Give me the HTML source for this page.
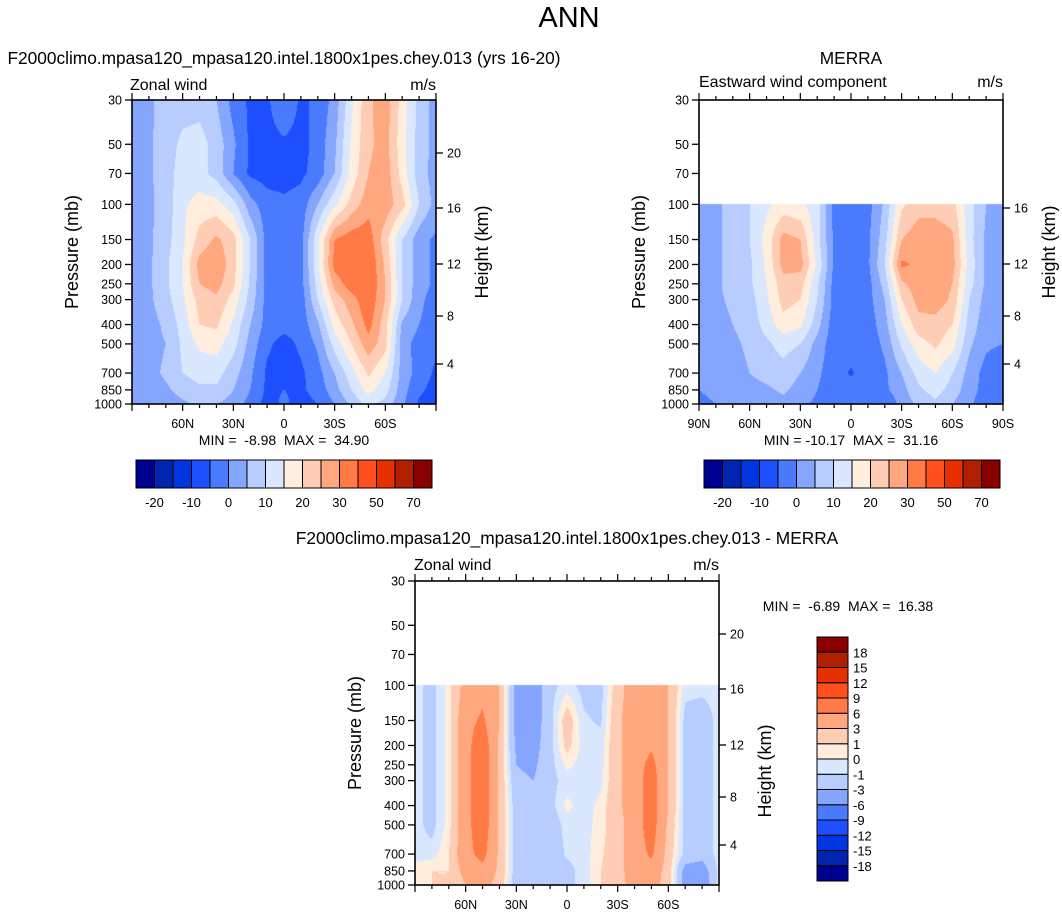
<!DOCTYPE html>
<html><head><meta charset="utf-8">
<style>
html,body{margin:0;padding:0;background:#fff;}
#wrap{position:relative;width:1062px;height:915px;overflow:hidden;font-family:"Liberation Sans",Arial,sans-serif;}
canvas{position:absolute;}
svg{position:absolute;left:0;top:0;}
svg text{white-space:pre;}
</style></head>
<body>
<div id="wrap">
<canvas id="c1" width="304" height="304" style="left:132px;top:100px"></canvas>
<canvas id="c2" width="304" height="304" style="left:699px;top:100px"></canvas>
<canvas id="c3" width="304" height="304" style="left:415px;top:581px"></canvas>
<svg id="ov" width="1062" height="915"></svg>
</div>
<script>
// ---------- data ----------
const lats = [90,80,70,60,50,40,30,20,10,0,-10,-20,-30,-40,-50,-60,-70,-80,-90];
const presFull = [30,50,70,100,150,200,250,300,400,500,700,850,1000];
const presLow = [100,150,200,250,300,400,500,700,850,1000];
const modelU = [
[3,4,7,8,8,5,-2,-6,-6,0,-6,-4,2,14,24,28,18,8,3],
[2,4,8,11,12,8,1,-6,-7,-6,-7,-3,4,16,24,27,17,8,3],
[2,4,8,12,12,8,0,-6,-7,-7,-6,-3,5,17,25,28,18,7,3],
[2,4,7,14,17,17,12,2,-3,-4,-3,5,14,22,28,28,22,10,3],
[2,4,8,14,22,26,22,10,-2,-3,-2,14,30,33,33,22,10,2,-1],
[2,4,9,15,27,29,22,10,-2,-3,-2,14,32,35,35,24,10,2,-1],
[2,4,9,15,25,27,21,9,-2,-3,-2,12,27,33,35,25,10,2,-1],
[2,4,8,14,22,24,18,8,-2,-3,-3,10,22,28,34,25,10,1,-2],
[2,3,6,12,20,21,14,5,-2,-3,-3,4,17,24,32,22,4,0,-2],
[1,3,5,11,16,17,12,3,-4,-7,-4,1,12,20,28,22,2,-2,-4],
[1,3,6,10,12,12,7,1,-6,-7,-6,-2,5,13,21,15,3,-2,-6],
[1,2,4,7,9,9,5,0,-6,-5,-6,-3,3,10,17,12,2,-4,-7],
[1,1,2,4,6,5,3,-2,-7,-4,-7,-5,0,6,12,8,1,-6,-7]];
const merraU = [
[2,4,7,10,14,17,16,12,-2,-3,-2,6,19,23,23,22,12,5,2],
[2,4,7,10,17,27,25,12,-1,-3,-1,8,25,28,28,26,12,4,2],
[2,4,7,9,16,27,27,14,-1,-3,-1,10,31,29,28,27,13,4,2],
[2,4,7,9,15,23,22,11,-2,-3,-2,7,24,28,28,25,12,4,2],
[2,4,6,8,14,22,20,10,-2,-3,-2,5,20,27,28,24,10,3,2],
[2,3,5,7,12,18,16,7,-3,-3,-3,3,15,23,23,20,8,2,1],
[1,3,4,6,9,12,10,3,-3,-3,-3,1,11,18,21,17,6,1,0],
[0,2,3,5,7,8,5,1,-3,-5.5,-3,-1,5,12,15,10,3,-2,-5],
[0,1,2,3,4,6,3,0,-3,-3,-3,-1,3,9,12,8,2,-2,-4],
[-1,0,1,2,2,3,1,-1,-3,-4,-5,-5,2,6,9,5,1,-3,-5]];
const diffU = [
[-0.5,-1.5,0.5,4,5,3,-4,-4.5,-1.5,-0.5,-1.5,-1.5,2,4.5,4,3,-0.5,-0.5,-0.5],
[-0.5,-1.5,0.5,5,6.5,3,-4,-4.5,-1.5,2,-0.8,-1.2,2.5,4.5,4.5,3,-1.5,-2,-0.5],
[-0.5,-1.5,0.5,5,8,2.5,-3.5,-4,-1.5,1.5,-0.5,-0.5,2.5,4.5,5.5,3,-1.5,-2,-0.5],
[-0.5,-1.5,0.5,5,8,2.5,-3,-3.5,-1.5,0.3,-0.5,-0.5,2.5,4.5,7,3,-1.5,-2,-0.5],
[-0.5,-1.5,0.5,5,8,2.5,-2.5,-3,-1.5,-0.5,-0.5,-0.3,2.5,4.5,7.5,3,-1.5,-2,-0.5],
[-0.5,-1.5,0.5,5,8,2.5,-2,-2.5,-1.5,0.3,-0.5,0.3,2.5,4.5,7.5,3,-1.5,-2,-0.5],
[-0.5,-1.5,0.5,5,8,2.5,-2,-2.5,-2,-0.5,-0.5,0.5,2,4.5,7.5,2.5,-1.5,-2,-0.5],
[-0.5,-0.5,1,5,7,2.5,-2,-2.5,-2,-0.8,-0.5,0.8,2,4.5,6.5,2,-1.5,-2,-0.5],
[0.5,1,1,4,5,2.5,-2,-2,-2,-1.5,-0.5,1,2,4.5,4.5,2,-4,-4.5,-0.5],
[0.5,1,1,3,4,2,-2,-2,-1.5,-1.5,-0.5,1,2,4,4,2,-4,-5,-0.5]];
const levelsAbs = [-20,-15,-10,-5,0,5,10,15,20,25,30,40,50,60,70];
const levelsDiff = [-18,-15,-12,-9,-6,-3,-1,0,1,3,6,9,12,15,18];
const absTickLabels = ["-20","-10","0","10","20","30","50","70"];
const diffTickLabels = ["-18","-15","-12","-9","-6","-3","-1","0","1","3","6","9","12","15","18"];
const palette = ["#000090","#0024b0","#0035e0","#1e4fff","#4a7bff","#85a6ff","#b8cdff","#d9e8ff","#ffeedd","#ffcdb5","#ffa880","#ff7a45","#ff4f1f","#e63000","#b02000","#8a0000"];
const pressLabels = [30,50,70,100,150,200,250,300,400,500,700,850,1000];
const latLabels = ["60N","30N","0","30S","60S"];
const latLabelVals = [60,30,0,-30,-60];
const heightLabels = [20,16,12,8,4];
const heightOffsets = [53,108,164,216,264];

// ---------- helpers ----------
const PH = 304, PW = 304;
const decade = PH / Math.log10(1000/30);
function yOfP(p){ return (Math.log10(p) - Math.log10(30)) * decade; }
function xOfLat(lat){ return (90 - lat) / 180 * PW; }
function hex(c){ return [parseInt(c.slice(1,3),16),parseInt(c.slice(3,5),16),parseInt(c.slice(5,7),16)]; }
const palRGB = palette.map(hex);

function drawField(id, pres, vals, levels){
  const cv = document.getElementById(id), ctx = cv.getContext('2d');
  const img = ctx.createImageData(PW, PH);
  const lp = pres.map(p => Math.log10(p));
  const top = yOfP(pres[0]);
  for (let py = 0; py < PH; py++){
    const y = py + 0.5;
    if (y < top) continue;
    const l = Math.log10(30) + y / decade;
    let j = 0; while (j < lp.length - 2 && l > lp[j+1]) j++;
    let fy = (l - lp[j]) / (lp[j+1] - lp[j]); fy = Math.max(0, Math.min(1, fy));
    for (let px = 0; px < PW; px++){
      const lat = 90 - (px + 0.5) / PW * 180;
      let fi = (90 - lat) / 10; let i = Math.min(lats.length - 2, Math.floor(fi)); let fx = fi - i;
      const v = vals[j][i]*(1-fx)*(1-fy) + vals[j][i+1]*fx*(1-fy) + vals[j+1][i]*(1-fx)*fy + vals[j+1][i+1]*fx*fy;
      let k = 0; while (k < levels.length && v >= levels[k]) k++;
      const c = palRGB[k], o = (py*PW + px)*4;
      img.data[o]=c[0]; img.data[o+1]=c[1]; img.data[o+2]=c[2]; img.data[o+3]=255;
    }
  }
  ctx.putImageData(img, 0, 0);
}
drawField('c1', presFull, modelU, levelsAbs);
drawField('c2', presLow, merraU, levelsAbs);
drawField('c3', presLow, diffU, levelsDiff);

// ---------- SVG overlay ----------
const NS = "http://www.w3.org/2000/svg";
const svg = document.getElementById('ov');
function el(tag, attrs, parent){
  const e = document.createElementNS(NS, tag);
  for (const k in attrs) e.setAttribute(k, attrs[k]);
  (parent || svg).appendChild(e); return e;
}
function txt(x, y, s, size, anchor, extra){
  const t = el('text', Object.assign({x:x, y:y, 'font-size':size, 'text-anchor':anchor||'middle', fill:'#000', 'font-family':'Liberation Sans, Arial, sans-serif'}, extra||{}));
  t.textContent = s; return t;
}

function axes(ox, oy, name, opts){
  const g = el('g', {});
  
  
  el('rect', {x:ox, y:oy, width:PW, height:PH, fill:'none', stroke:'#000', 'stroke-width':1.6}, g);
  pressLabels.forEach(p => {
    const y = oy + yOfP(p);
    el('line', {x1:ox-7, x2:ox, y1:y, y2:y, stroke:'#000', 'stroke-width':1.3}, g);
    g.appendChild(txt(ox-10, y+4.5, String(p), 12.5, 'end'));
  });
  heightLabels.forEach((h, k) => {
    if (opts.hskip && h > 16) return;
    const y = oy + heightOffsets[k];
    el('line', {x1:ox+PW, x2:ox+PW+7, y1:y, y2:y, stroke:'#000', 'stroke-width':1.3}, g);
    g.appendChild(txt(ox+PW+11, y+4.5, String(h), 12.5, 'start'));
  });
  for (let lat = 90; lat >= -90; lat -= 10){
    const x = ox + xOfLat(lat);
    const major = (lat % 30 === 0);
    const len = major ? 7 : 4;
    el('line', {x1:x, x2:x, y1:oy+PH, y2:oy+PH+len, stroke:'#000', 'stroke-width':1.2}, g);
    el('line', {x1:x, x2:x, y1:oy, y2:oy-len, stroke:'#000', 'stroke-width':1.2}, g);
  }
  latLabelVals.forEach((v, k) => {
    g.appendChild(txt(ox + xOfLat(v), oy+PH+24, latLabels[k], 12.5, 'middle'));
  });
  if (opts.poles){
    g.appendChild(txt(ox, oy+PH+24, "90N", 12.5, 'middle'));
    g.appendChild(txt(ox+PW, oy+PH+24, "90S", 12.5, 'middle'));
  }
  const yc = oy + PH/2;
  g.appendChild(txt(ox-60, yc+6, "Pressure (mb)", 18, 'middle', {transform:'rotate(-90 '+(ox-60)+' '+yc+')'}));
  const hy = oy + opts.hcenter;
  g.appendChild(txt(ox+PW+46, hy+6, "Height (km)", 18, 'middle', {transform:'rotate(-90 '+(ox+PW+46)+' '+hy+')'}));
}

function hbar(x0, y0, w, h, labels, name){
  const g = el('g', {});
  
  
  const n = palette.length, cw = w / n;
  palette.forEach((c, k) => {
    const r = el('rect', {x:x0+k*cw, y:y0, width:cw, height:h, fill:c, stroke:'#000', 'stroke-width':1}, g);
    
    
  });
  labels.forEach((s, k) => {
    g.appendChild(txt(x0 + (2*k+1)*cw, y0+h+19, s, 13, 'middle'));
  });
}

const t0 = txt(569, 27, "ANN", 29, 'middle');


const t1 = txt(284, 64, "F2000climo.mpasa120_mpasa120.intel.1800x1pes.chey.013 (yrs 16-20)", 17.3, 'middle');


const t2 = txt(851, 64, "MERRA", 17.3, 'middle');


const t3 = txt(567, 544, "F2000climo.mpasa120_mpasa120.intel.1800x1pes.chey.013 - MERRA", 17.3, 'middle');



txt(130, 90, "Zonal wind", 16, 'start');
txt(436, 90, "m/s", 16, 'end');
txt(699, 87, "Eastward wind component", 16, 'start');
txt(1003, 87, "m/s", 16, 'end');
txt(414, 570, "Zonal wind", 16, 'start');
txt(719, 570, "m/s", 16, 'end');

axes(132, 100, 'model-axes', {hcenter:152, hskip:false, poles:false});
axes(699, 100, 'merra-axes', {hcenter:152, hskip:true, poles:true});
axes(415, 581, 'difference-axes', {hcenter:190, hskip:false, poles:false});

txt(284, 445, "MIN =  -8.98  MAX =  34.90", 14, 'middle');
txt(851, 445, "MIN = -10.17  MAX =  31.16", 14, 'middle');
txt(848, 611, "MIN =  -6.89  MAX =  16.38", 14, 'middle');

hbar(136, 460, 296, 28, absTickLabels, 'model-colorbar');
hbar(704, 460, 296, 28, absTickLabels, 'merra-colorbar');

(function(){
  const g = el('g', {});
  
  
  const x0 = 817, y0 = 637, w = 31, h = 244, n = palette.length, ch = h / n;
  palette.forEach((c, k) => {
    const r = el('rect', {x:x0, y:y0 + (n-1-k)*ch, width:w, height:ch, fill:c, stroke:'#000', 'stroke-width':1}, g);
    
    
  });
  diffTickLabels.forEach((s, k) => {
    const y = y0 + (n-1-k)*ch;
    g.appendChild(txt(853, y+5, s, 13, 'start'));
  });
})();
</script>
</body></html>
